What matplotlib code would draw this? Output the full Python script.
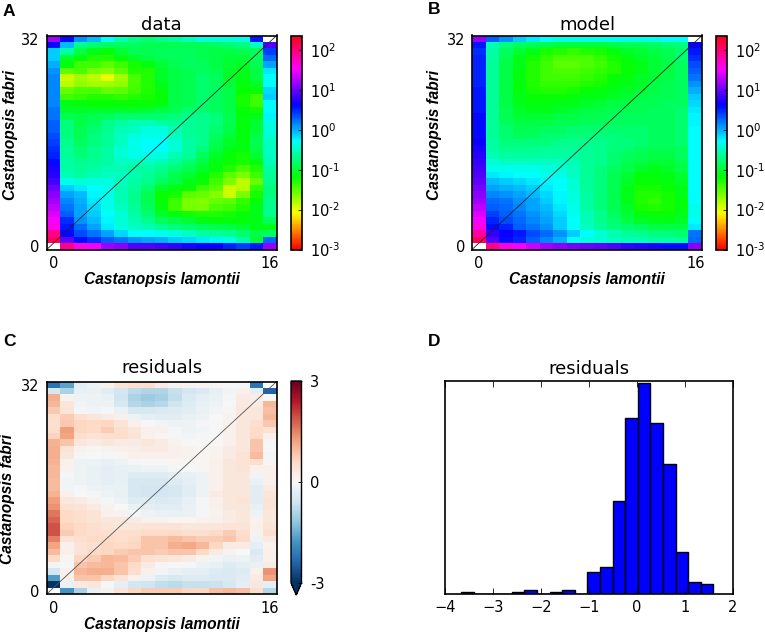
import numpy as np
import matplotlib
matplotlib.use("Agg")
import matplotlib.pyplot as plt
from matplotlib.colors import LogNorm, Normalize

M = np.nan
# log10 of the frequency-spectrum cells, rows listed from 32 (top) to 0 (bottom)
data_log10 = [
[1.2,.6,.1,-.05,-.3,-.55,-.7,-.75,-.7,-.6,-.5,-.4,-.4,-.4,-.35,.55,M],
[.6,-.05,-.7,-.8,-.85,-.85,-.85,-.9,-.9,-.9,-.9,-.9,-.85,-.8,-.75,-.5,.9],
[-.1,-.6,-.95,-1.1,-1.15,-1.0,-.9,-.9,-.85,-.85,-.85,-.9,-.95,-.95,-.9,-.85,.4],
[-.1,-1.05,-1.15,-1.3,-1.3,-1.15,-1.05,-.95,-.9,-.85,-.85,-.9,-.95,-1.0,-1.0,-.85,.25],
[0.0,-1.15,-1.4,-1.4,-1.5,-1.4,-1.25,-1.15,-1.0,-.9,-.85,-.85,-.95,-1.0,-1.05,-.9,.05],
[.1,-1.5,-1.45,-1.6,-1.65,-1.5,-1.3,-1.3,-1.05,-.95,-.9,-.85,-.9,-1.05,-1.1,-.95,-.2],
[.15,-1.9,-1.75,-1.85,-2.0,-1.75,-1.45,-1.3,-1.05,-.95,-.9,-.8,-.85,-1.05,-1.1,-.95,-.3],
[.15,-1.85,-1.7,-1.75,-1.75,-1.7,-1.45,-1.3,-1.1,-.95,-.9,-.8,-.85,-1.0,-1.15,-1.05,-.3],
[.15,-1.55,-1.45,-1.45,-1.55,-1.5,-1.4,-1.3,-1.15,-.95,-.9,-.8,-.85,-.95,-1.2,-1.2,-.15],
[.15,-1.4,-1.35,-1.3,-1.3,-1.35,-1.3,-1.25,-1.2,-.95,-.9,-.8,-.85,-.95,-1.25,-1.4,-.1],
[.15,-1.1,-1.15,-1.2,-1.2,-1.2,-1.2,-1.2,-1.15,-.95,-.9,-.8,-.85,-.95,-1.25,-1.4,-.3],
[.2,-1.05,-1.05,-1.05,-1.05,-1.05,-1.05,-1.0,-.95,-.9,-.8,-.8,-.85,-.95,-1.2,-1.25,-.3],
[.2,-.9,-.95,-.9,-.85,-.8,-.8,-.8,-.8,-.75,-.7,-.7,-.75,-.9,-1.15,-1.1,-.25],
[.3,-.75,-.95,-.85,-.7,-.6,-.55,-.55,-.6,-.65,-.65,-.7,-.75,-.9,-1.15,-1.0,-.4],
[.3,-.75,-.9,-.8,-.7,-.55,-.5,-.4,-.4,-.55,-.65,-.7,-.8,-.95,-1.15,-1.0,-.4],
[.35,-.75,-.9,-.75,-.65,-.5,-.4,-.35,-.35,-.5,-.65,-.7,-.85,-1.0,-1.15,-.95,-.45],
[.4,-.7,-.85,-.75,-.65,-.5,-.35,-.3,-.3,-.45,-.6,-.7,-.9,-1.05,-1.15,-.9,-.5],
[.45,-.65,-.8,-.7,-.6,-.45,-.35,-.3,-.3,-.45,-.6,-.75,-.95,-1.1,-1.15,-.95,-.5],
[.5,-.65,-.75,-.7,-.6,-.45,-.35,-.35,-.4,-.55,-.65,-.85,-1.05,-1.2,-1.25,-1.0,-.5],
[.6,-.6,-.7,-.65,-.6,-.5,-.5,-.5,-.55,-.65,-.8,-.95,-1.1,-1.2,-1.25,-1.15,-.55],
[.7,-.6,-.65,-.6,-.55,-.55,-.6,-.6,-.7,-.8,-.9,-1.05,-1.15,-1.3,-1.45,-1.3,-.6],
[.75,-.55,-.6,-.55,-.5,-.5,-.55,-.65,-.75,-.9,-1.0,-1.15,-1.3,-1.5,-1.6,-1.4,-.65],
[.85,-.35,-.45,-.4,-.4,-.5,-.6,-.7,-.85,-.95,-1.1,-1.2,-1.4,-1.6,-1.85,-1.55,-.7],
[1.0,-.1,-.2,-.3,-.35,-.55,-.65,-.8,-1.05,-1.15,-1.2,-1.4,-1.5,-1.9,-1.85,-1.35,-.75],
[1.1,.05,-.05,-.25,-.35,-.55,-.7,-.9,-1.2,-1.25,-1.5,-1.55,-1.65,-1.9,-1.6,-1.25,-.75],
[1.2,.15,.0,-.2,-.35,-.55,-.7,-.9,-1.2,-1.4,-1.6,-1.65,-1.55,-1.5,-1.35,-1.2,-.7],
[1.3,.2,.05,-.15,-.35,-.5,-.65,-.85,-1.15,-1.4,-1.6,-1.6,-1.45,-1.4,-1.3,-1.1,-.7],
[1.4,.3,.05,-.1,-.3,-.45,-.6,-.8,-1.05,-1.15,-1.25,-1.3,-1.3,-1.25,-1.2,-1.1,-.7],
[1.5,.45,.1,-.05,-.25,-.45,-.55,-.7,-.85,-.95,-1.0,-1.1,-1.15,-1.15,-1.15,-1.1,-.85],
[1.6,.55,.25,.05,-.2,-.4,-.5,-.55,-.65,-.75,-.8,-.85,-.9,-.95,-1.0,-1.1,-1.1],
[1.95,.6,.35,.2,.05,-.15,-.3,-.3,-.35,-.4,-.5,-.6,-.65,-.7,-.8,-.95,-.85],
[2.1,.95,.6,.45,.3,.2,.1,.05,.0,-.1,-.15,-.2,-.25,-.35,-.6,-1.0,.25],
[M,1.95,1.6,1.5,1.2,1.1,.9,.9,.85,.8,.7,.65,.65,.5,.4,.55,1.15],
]
model_log10 = [
[1.15,.3,.1,-.1,-.2,-.3,-.35,-.35,-.35,-.35,-.35,-.35,-.35,-.35,-.3,-.3,M],
[.55,-.55,-.75,-.85,-.9,-.95,-1.0,-1.0,-1.0,-1.0,-.95,-.9,-.9,-.85,-.8,-.75,.65],
[.45,-.6,-.85,-1.0,-1.1,-1.25,-1.3,-1.35,-1.3,-1.25,-1.15,-1.05,-1.0,-.95,-.9,-.8,.55],
[.5,-.6,-.9,-1.1,-1.25,-1.35,-1.45,-1.45,-1.45,-1.35,-1.25,-1.15,-1.05,-1.0,-.9,-.8,.45],
[.5,-.65,-.95,-1.1,-1.3,-1.4,-1.5,-1.5,-1.45,-1.4,-1.3,-1.2,-1.1,-1.0,-.95,-.85,.35],
[.5,-.65,-.95,-1.15,-1.3,-1.4,-1.45,-1.45,-1.4,-1.35,-1.3,-1.2,-1.1,-1.0,-.95,-.85,.3],
[.5,-.65,-.95,-1.15,-1.3,-1.4,-1.4,-1.4,-1.35,-1.3,-1.2,-1.15,-1.05,-1.0,-.95,-.85,.2],
[.5,-.65,-.95,-1.15,-1.3,-1.35,-1.35,-1.35,-1.3,-1.25,-1.15,-1.1,-1.05,-.95,-.9,-.85,.1],
[.55,-.65,-.95,-1.15,-1.25,-1.3,-1.3,-1.25,-1.2,-1.15,-1.1,-1.05,-1.0,-.95,-.9,-.85,0],
[.55,-.65,-.95,-1.1,-1.2,-1.2,-1.2,-1.15,-1.1,-1.1,-1.05,-1.0,-.95,-.9,-.9,-.85,-.1],
[.55,-.65,-.95,-1.1,-1.15,-1.15,-1.1,-1.1,-1.05,-1.0,-.95,-.95,-.9,-.9,-.85,-.85,-.15],
[.55,-.65,-.9,-1.05,-1.1,-1.1,-1.05,-1.0,-.95,-.95,-.9,-.9,-.9,-.85,-.85,-.8,-.2],
[.6,-.65,-.9,-1.0,-1.0,-1.0,-.95,-.95,-.9,-.9,-.85,-.85,-.85,-.85,-.85,-.8,-.25],
[.6,-.65,-.85,-.95,-.95,-.95,-.9,-.9,-.85,-.85,-.85,-.85,-.85,-.85,-.85,-.8,-.25],
[.6,-.65,-.8,-.9,-.9,-.85,-.85,-.8,-.8,-.8,-.8,-.8,-.8,-.85,-.85,-.8,-.3],
[.6,-.65,-.8,-.85,-.85,-.8,-.8,-.75,-.75,-.75,-.75,-.8,-.8,-.85,-.85,-.8,-.3],
[.65,-.6,-.75,-.75,-.75,-.75,-.7,-.7,-.7,-.7,-.75,-.75,-.8,-.85,-.85,-.8,-.3],
[.7,-.6,-.7,-.7,-.7,-.65,-.65,-.65,-.65,-.7,-.75,-.8,-.85,-.9,-.9,-.85,-.3],
[.75,-.55,-.6,-.6,-.6,-.6,-.6,-.6,-.65,-.7,-.8,-.85,-.9,-.95,-.95,-.85,-.3],
[.8,-.45,-.5,-.5,-.5,-.5,-.5,-.55,-.65,-.7,-.8,-.9,-.95,-1.0,-1.0,-.9,-.3],
[.85,-.35,-.35,-.35,-.35,-.4,-.45,-.5,-.65,-.75,-.85,-.95,-1.05,-1.1,-1.05,-.95,-.3],
[.9,-.2,-.25,-.3,-.3,-.35,-.35,-.5,-.65,-.75,-.9,-1.0,-1.15,-1.15,-1.1,-1.0,-.3],
[.95,-.05,-.1,-.15,-.2,-.25,-.3,-.45,-.65,-.75,-.9,-1.05,-1.2,-1.2,-1.15,-1.05,-.3],
[1.05,.05,.0,-.05,-.1,-.2,-.3,-.45,-.65,-.75,-.9,-1.1,-1.25,-1.25,-1.2,-1.1,-.3],
[1.1,.15,.1,.05,-.05,-.15,-.25,-.4,-.6,-.75,-.9,-1.1,-1.3,-1.3,-1.25,-1.1,-.3],
[1.2,.25,.2,.1,.05,-.1,-.25,-.4,-.6,-.75,-.9,-1.1,-1.3,-1.35,-1.25,-1.15,-.3],
[1.3,.3,.25,.15,.05,-.05,-.2,-.35,-.6,-.75,-.9,-1.05,-1.25,-1.3,-1.25,-1.15,-.35],
[1.4,.4,.3,.2,.1,0,-.15,-.35,-.55,-.7,-.85,-1.0,-1.15,-1.2,-1.2,-1.1,-.35],
[1.5,.5,.35,.25,.15,.05,-.1,-.3,-.55,-.7,-.8,-.95,-1.05,-1.1,-1.1,-1.05,-.3],
[1.6,.6,.5,.3,.2,.1,-.1,-.3,-.5,-.65,-.75,-.8,-.85,-.95,-.95,-.95,-.2],
[1.85,.8,.65,.55,.35,.25,.1,-.1,-.3,-.45,-.55,-.65,-.7,-.75,-.75,-.8,.2],
[2.1,.9,.6,.5,.3,.15,.0,-.3,-.4,-.45,-.5,-.55,-.55,-.6,-.6,-.65,.25],
[M,1.95,1.65,1.5,1.35,1.2,1.1,1.05,1.0,.95,.9,.8,.75,.7,.6,.6,1.1],
]
residual_values = [
[-2.2,-1.6,-.3,-.15,.1,.4,.55,.55,.25,.1,.1,.05,0,0,-.05,-2.2,M],
[-.5,-.95,-.25,-.2,-.35,-.55,-.8,-.9,-.9,-.7,-.55,-.45,-.25,-.1,.15,-.3,-2.4],
[1.1,.1,-.15,-.15,-.2,-.6,-.95,-1.1,-1.0,-.75,-.45,-.3,-.2,-.05,.25,.2,-.02],
[1.0,.35,-.1,-.15,-.15,-.5,-.85,-.95,-.85,-.6,-.4,-.25,-.15,0,.3,.25,1.0],
[.8,.4,-.05,-.1,-.05,-.2,-.5,-.5,-.45,-.4,-.35,-.2,-.1,.05,.35,.35,.9],
[.55,.75,.5,.35,.25,.15,-.15,-.3,-.35,-.35,-.25,-.15,-.02,.1,.35,.35,1.0],
[.5,.8,.65,.6,.65,.4,.15,.0,-.1,-.15,-.15,-.05,0,.15,.35,.5,.8],
[.55,1.25,.65,.6,.75,.55,.35,.15,.15,-.05,-.15,-.1,.0,.15,.35,.6,.45],
[.7,1.2,.55,.4,.5,.55,.4,.15,.05,-.05,-.1,-.05,0,.15,.35,.6,.15],
[1.05,.85,.35,.25,.35,.25,.25,.35,.25,.1,0,0,0,.15,.35,.85,0],
[1.1,.4,.1,.05,.1,.15,.2,.25,.25,.15,.1,.05,.1,.25,.35,.85,-.02],
[1.1,.35,-.05,-.02,-.05,.05,.15,.15,.15,.15,.1,.05,.1,.25,.4,.95,-.05],
[1.05,.15,-.15,-.15,-.25,-.15,-.05,0,0,.05,.05,.05,.15,.35,.4,.5,.05],
[1.0,.1,-.15,-.2,-.3,-.25,-.2,-.15,-.15,-.05,0,.05,.15,.35,.4,.15,.15],
[1.0,-.05,-.15,-.2,-.3,-.25,-.4,-.4,-.4,-.3,-.25,-.15,.15,.35,.35,-.1,.15],
[.95,-.1,-.15,-.2,-.3,-.25,-.5,-.5,-.5,-.4,-.3,-.15,.15,.35,.35,-.2,.15],
[.95,-.1,-.05,-.15,-.2,-.2,-.5,-.55,-.55,-.5,-.35,-.15,.15,.35,.35,-.35,.25],
[1.05,.15,.0,-.05,-.15,-.2,-.5,-.55,-.55,-.5,-.35,-.15,.25,.35,.35,-.35,.35],
[1.25,.35,.25,.1,-.05,-.15,-.4,-.4,-.45,-.4,-.25,-.05,.15,.35,.4,-.35,.4],
[1.35,.45,.4,.25,.1,-.02,-.2,-.3,-.35,-.35,-.2,-.05,.15,.35,.35,-.25,.4],
[1.6,.6,.5,.4,.15,.1,-.05,-.15,-.2,-.25,-.2,-.05,.1,.25,.35,-.15,.35],
[1.75,.6,.5,.4,.35,.35,.25,.1,.1,.05,.05,.1,.15,.25,.35,.1,.35],
[1.9,.7,.6,.5,.4,.35,.35,.4,.4,.4,.35,.35,.35,.4,.4,.15,.4],
[1.9,.75,.6,.5,.5,.5,.5,.6,.6,.6,.5,.5,.6,.75,.5,.1,.5],
[1.5,.4,.5,.6,.6,.5,.6,.85,.85,.95,.85,.75,.75,.85,.6,-.15,.25],
[1.2,.15,.4,.5,.65,.6,.65,.85,.85,1.1,1.15,1.0,.65,.25,.25,-.3,.1],
[.95,.15,.4,.6,.65,.75,.85,.85,.75,.85,.85,.6,.25,.1,-.02,-.45,.15],
[.6,.05,.65,.75,1.0,.95,.75,.5,.4,.35,.25,.1,-.1,-.2,-.15,-.35,.15],
[-.1,.0,.85,.95,1.0,.85,.6,.25,.05,.0,-.05,-.15,-.25,-.4,-.3,-.2,.25],
[-.55,.15,1.0,1.1,1.1,.85,.5,.15,-.1,-.2,-.3,-.3,-.4,-.45,-.4,.15,1.35],
[-1.7,.15,.85,.85,.65,.4,.15,-.15,-.4,-.5,-.4,-.4,-.45,-.45,-.35,.25,1.2],
[-3,-.2,.25,.35,.0,-.3,-.55,-.6,-.75,-.8,-.7,-.7,-.65,-.5,-.3,.35,-.3],
[M,-1.8,-.95,-.2,.1,.4,.65,.75,.75,.75,.65,.65,.9,1.0,.9,.5,-.85],
]
hist_edges = [-3.66,-3.3975,-3.135,-2.8725,-2.61,-2.3475,-2.085,-1.8225,-1.56,-1.2975,-1.035,
              -0.7725,-0.51,-0.2475,0.015,0.2775,0.54,0.8025,1.065,1.3275,1.59]
hist_counts = [1,0,0,0,1,2,0,1,2,0,13,16,56,106,127,103,78,25,7,6]

titles = ["data", "model", "residuals", "residuals"]
xlabel = "Castanopsis lamontii"
ylabel = "Castanopsis fabri"
panel_letters = ["A", "B", "C", "D"]
log_ticks = [1e-3, 1e-2, 1e-1, 1e0, 1e1, 1e2]
log_ticklabels = [r"$\mathregular{10^{\text{-}3}}$", r"$\mathregular{10^{\text{-}2}}$", r"$\mathregular{10^{\text{-}1}}$",
                  r"$\mathregular{10^{0}}$", r"$\mathregular{10^{1}}$", r"$\mathregular{10^{2}}$"]

W, H = 765, 635
fig = plt.figure(figsize=(W/100, H/100), dpi=100)
plt.rcParams['font.family'] = 'DejaVu Sans'

def px_axes(x0, y0, x1, y1):
    return fig.add_axes([x0/W, 1-y1/H, (x1-x0)/W, (y1-y0)/H])

def grid(rows):
    return np.ma.masked_invalid(np.array(rows, dtype=float)[::-1])

def sfs_panel(box, cbox, values, cmap, norm, title, xlc, ylc, tpad, lc):
    ax = px_axes(*box)
    nrow, ncol = values.shape
    m = ax.pcolormesh(np.arange(ncol+1), np.arange(nrow+1), values, cmap=cmap, norm=norm,
                      linewidth=0, rasterized=True)
    ax.plot([0, ncol], [0, nrow], color=lc, lw=0.6)
    ax.set_xlim(0, ncol); ax.set_ylim(0, nrow)
    ax.set_xticks([0.5, ncol-0.5]); ax.set_xticklabels(["0", str(ncol-1)])
    ax.set_yticks([0.5, nrow-0.5]); ax.set_yticklabels(["0", str(nrow-1)])
    ax.tick_params(length=0, labelsize=10.5, pad=5)
    ax.set_title(title, fontsize=13, pad=tpad)
    ax.set_xlabel(xlabel, fontfamily='Liberation Sans', fontweight='bold', fontstyle='italic',
                  fontsize=11.2, va='center')
    ax.set_ylabel(ylabel, fontfamily='Liberation Sans', fontweight='bold', fontstyle='italic',
                  fontsize=11.2, va='center')
    ax.xaxis.set_label_coords(*xlc)
    ax.yaxis.set_label_coords(*ylc)
    for s in ax.spines.values():
        s.set_linewidth(1.2)
    cax = px_axes(*cbox)
    return ax, m, cax

lognorm = LogNorm(vmin=1e-3, vmax=10**2.35)

for box, cbox, vals, title, xlc, ylc in [
    ((46.7, 35.5, 276.7, 249.5), (291, 36, 301.5, 249.5), data_log10, titles[0], (0.5, -0.14), (-0.157, 0.533)),
    ((472, 35.5, 702, 249.5), (716, 36, 726.5, 249.5), model_log10, titles[1], (0.5, -0.14), (-0.165, 0.533)),
]:
    ax, m, cax = sfs_panel(box, cbox, 10**grid(vals), 'hsv', lognorm, title, xlc, ylc, 4, '#222222')
    cb = fig.colorbar(m, cax=cax)
    cb.set_ticks(log_ticks, labels=log_ticklabels)
    cb.minorticks_off()
    cax.tick_params(length=3, direction='in', labelsize=10.5, pad=6, width=0.6)
    cb.outline.set_linewidth(1.2)

ax, m, cax = sfs_panel((46.7, 381.5, 276.7, 594), (291, 381, 301.5, 595), grid(residual_values),
                       'RdBu_r', Normalize(-3, 3), titles[2], (0.5, -0.145), (-0.172, 0.446), 6, '#555555')
cb = fig.colorbar(m, cax=cax, extend='min', extendfrac=0.06)
cb.set_ticks([-3, 0, 3], labels=["-3", "0", "3"])
cax.tick_params(length=3, direction='in', labelsize=10.5, pad=6, width=0.6)
cb.outline.set_linewidth(1.0)

axd = px_axes(445, 381, 733, 593.5)
axd.bar(hist_edges[:-1], hist_counts, width=np.diff(hist_edges), align='edge',
        color='#0000ff', edgecolor='k', linewidth=1.0)
axd.set_xlim(-4, 2); axd.set_ylim(0, 128)
axd.set_yticks([])
axd.set_xticks(range(-4, 3))
axd.tick_params(axis='x', direction='in', top=True, bottom=True, length=4, labelsize=10.5, pad=5, width=0.6)
axd.set_title(titles[3], fontsize=13, pad=5)
for s in axd.spines.values():
    s.set_linewidth(1.2)

for letter, (x, y) in zip(panel_letters, [(3, 11), (428, 10), (3, 341), (428, 341)]):
    fig.text(x/W, 1-y/H, letter, fontfamily='Liberation Sans', fontweight='bold', fontsize=12.5,
             ha='left', va='center')

fig.savefig("out.png", dpi=100)
